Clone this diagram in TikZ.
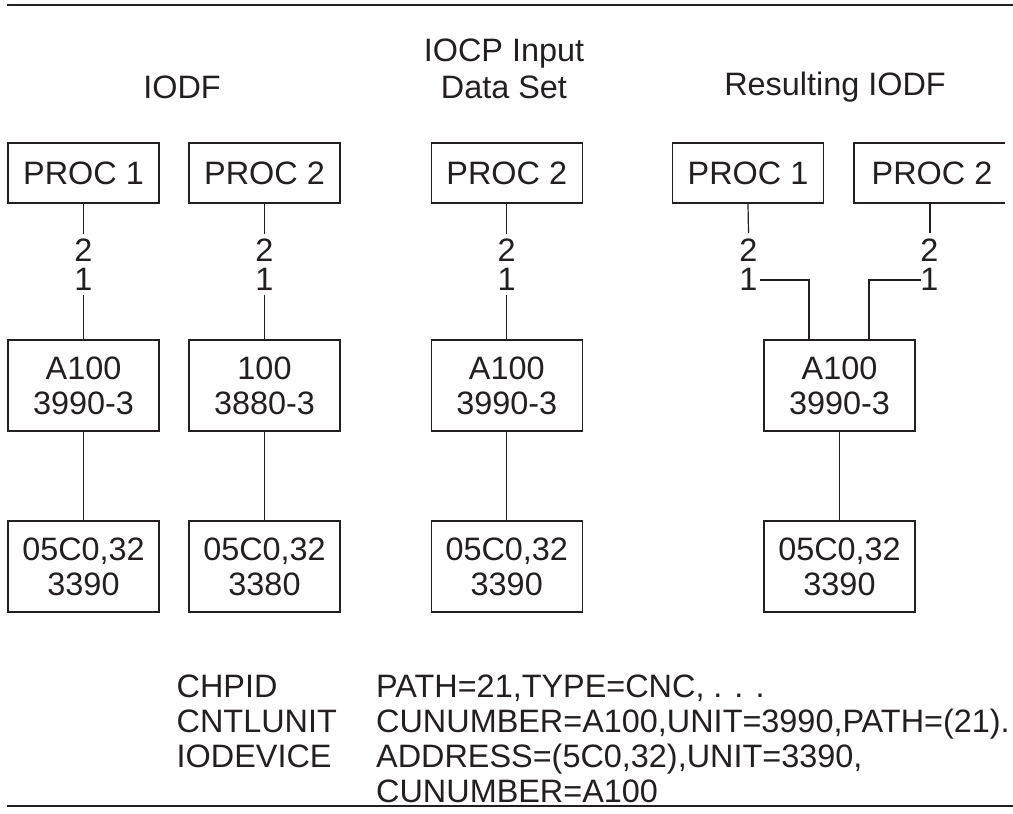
\documentclass[tikz,border=0pt]{standalone}
\usepackage{fontspec}
\setmainfont{Liberation Sans}
\definecolor{ink}{HTML}{231F20}
\begin{document}
\begin{tikzpicture}[x=1pt,y=-1pt,
  every node/.style={font=\fontsize{32.4}{35}\selectfont, text=ink},
  pbox/.style={draw=ink, line width=1.2pt, minimum width=151pt, minimum height=60pt, inner sep=0pt, align=center},
  cbox/.style={draw=ink, line width=1.2pt, minimum width=151pt, minimum height=91pt, inner sep=0pt, align=center},
  lbl/.style={inner sep=0pt, outer sep=5pt, align=center, font=\fontsize{32.4}{29}\selectfont},
  conn/.style={draw=ink, line width=1.2pt},
  rule/.style={draw=ink, line width=2pt},
  ttl/.style={align=center, inner sep=0pt}
]
\useasboundingbox (0,0) rectangle (1013,814);
% rules
\coordinate (t0) at (7,5); \coordinate (t1) at (1013,5);
\coordinate (b0) at (7,806); \coordinate (b1) at (1013,806);
\draw[rule] (t0) -- (t1);
\draw[rule] (b0) -- (b1);
% titles
\node[ttl] (ti1) at (182,87) {IODF};
\node[ttl, font=\fontsize{32.4}{37}\selectfont] (ti2) at (504,69) {IOCP Input\\Data Set};
\node[ttl] (ti3) at (835,87) {Resulting IODF};
% processors
\node[pbox] (p11) at (83.5,173) {PROC 1};
\node[pbox] (p12) at (264.5,173) {PROC 2};
\node[pbox] (p2) at (506.75,173) {PROC 2};
\node[pbox] (r1) at (748,173) {PROC 1};
\node[inner sep=0pt] (r2) at (932,173) {PROC 2};
\coordinate (r2tr) at (1005,143); \coordinate (r2tl) at (854,143);
\coordinate (r2bl) at (854,203); \coordinate (r2br) at (1005,203);
\draw[conn] (r2tr) -- (r2tl) -- (r2bl) -- (r2br);
% channel path labels (2 over 1)
\node[lbl] (la) at (83.5,264.5) {2\\1};
\node[lbl] (lb) at (264.5,264.5) {2\\1};
\node[lbl] (lc) at (506.75,264.5) {2\\1};
\node[lbl] (ld) at (748.5,264.5) {2\\1};
\node[lbl] (le) at (929.5,264.5) {2\\1};
% control units
\node[cbox] (cu1) at (83.5,385.5) {A100\\3990-3};
\node[cbox] (cu2) at (264.5,385.5) {100\\3880-3};
\node[cbox] (cu3) at (506.75,385.5) {A100\\3990-3};
\node[cbox] (cu4) at (839.5,385.5) {A100\\3990-3};
% devices
\node[cbox] (d1) at (83.5,566.5) {05C0,32\\3390};
\node[cbox] (d2) at (264.5,566.5) {05C0,32\\3380};
\node[cbox] (d3) at (506.75,566.5) {05C0,32\\3390};
\node[cbox] (d4) at (839.5,566.5) {05C0,32\\3390};
% connectors
\draw[conn] (p11.south) -- (la);
\draw[conn] (la) -- (cu1.north);
\draw[conn] (p12.south) -- (lb);
\draw[conn] (lb) -- (cu2.north);
\draw[conn] (p2.south) -- (lc);
\draw[conn] (lc) -- (cu3.north);
\coordinate (r2s) at (930,203);
\coordinate (ldt) at (748.5,233);
\coordinate (let) at (930,233);
\draw[conn] (r1.south) -- (ldt);
\draw[conn] (r2s) -- (let);
\coordinate (h1) at (760,280);
\coordinate (h2) at (920.5,280);
\coordinate (j1) at (809,339.5);
\coordinate (j2) at (869,339.5);
\draw[conn] (h1) -| (j1);
\draw[conn] (h2) -| (j2);
\draw[conn] (cu1) -- (d1);
\draw[conn] (cu2) -- (d2);
\draw[conn] (cu3) -- (d3);
\draw[conn] (cu4) -- (d4);
% statements
\node[anchor=base west, inner sep=0pt] (k1) at (176.5,697) {CHPID};
\node[anchor=base west, inner sep=0pt] (k2) at (176.5,732) {CNTLUNIT};
\node[anchor=base west, inner sep=0pt] (k3) at (176.5,767) {IODEVICE};
\node[anchor=base west, inner sep=0pt] (v1) at (376,697) {PATH=21,TYPE=CNC, . . .};
\node[anchor=base west, inner sep=0pt] (v2) at (376,732) {CUNUMBER=A100,UNIT=3990,PATH=(21).};
\node[anchor=base west, inner sep=0pt] (v3) at (376,767) {ADDRESS=(5C0,32),UNIT=3390,};
\node[anchor=base west, inner sep=0pt] (v4) at (376,802) {CUNUMBER=A100};
\end{tikzpicture}
\end{document}
